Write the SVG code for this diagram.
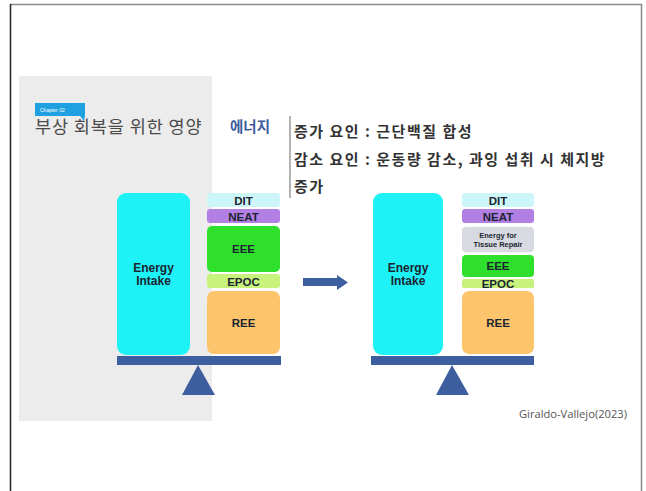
<svg xmlns="http://www.w3.org/2000/svg" width="646" height="491" viewBox="0 0 646 491">
<defs>
<style>
.lbl{font-family:"Liberation Sans",Arial,sans-serif;font-weight:bold;fill:#1b2430;text-anchor:middle}
.ko{font-family:"Noto Sans CJK KR","Noto Sans",sans-serif}
.scale{fill:#3e5f9f}
</style>
</defs>
<rect x="0" y="0" width="646" height="491" fill="#ffffff"/>
<!-- frame -->
<line x1="10" y1="4.5" x2="642" y2="4.5" stroke="#8a8a8a" stroke-width="1.5"/>
<line x1="10.5" y1="4" x2="10.5" y2="491" stroke="#222" stroke-width="1.5"/>
<line x1="641.5" y1="4" x2="641.5" y2="491" stroke="#8a8a8a" stroke-width="1.5"/>
<!-- gray panel -->
<rect x="19" y="76" width="193" height="345" fill="#ececec"/>
<!-- chapter badge -->
<g id="badge">
<rect x="35" y="103" width="50" height="13" fill="#1fa0e0"/>
<polygon points="80,116 85,116 84,121" fill="#1fa0e0"/>
<text x="40" y="112" font-family="Liberation Sans,sans-serif" font-size="5" fill="#fff">Chapter 02</text>
</g>
<g id="title">
<text x="35" y="133" class="ko" font-size="17.5" letter-spacing="0.9" fill="#4a4a4a">부상 회복을 위한 영양</text>
</g>
<g id="energy-heading">
<text x="230" y="132" class="ko" font-size="14.5" font-weight="bold" fill="#3a5a9a">에너지</text>
</g>
<line x1="290" y1="116" x2="290" y2="198" stroke="#9a9a9a" stroke-width="1.5"/>
<g id="notes" class="ko" font-size="15" font-weight="bold" fill="#333" letter-spacing="1.5">
<text x="294" y="137">증가 요인 : 근단백질 합성</text>
<text x="294" y="165">감소 요인 : 운동량 감소, 과잉 섭취 시 체지방</text>
<text x="294" y="192">증가</text>
</g>

<!-- left balance -->
<g id="left-intake">
<rect x="117" y="193" width="73" height="162" rx="9" fill="#1ef2f6"/>
<text class="lbl" x="153.5" y="272" font-size="12">Energy</text>
<text class="lbl" x="153.5" y="285" font-size="12">Intake</text>
</g>
<g id="left-dit"><rect x="207" y="193" width="73" height="14" rx="3" fill="#cdf6f8"/><text class="lbl" x="243.5" y="204.5" font-size="11.5">DIT</text></g>
<g id="left-neat"><rect x="207" y="209" width="73" height="14" rx="3" fill="#b27fe3"/><text class="lbl" x="243.5" y="220.5" font-size="11.5">NEAT</text></g>
<g id="left-eee"><rect x="207" y="226" width="73" height="46" rx="5" fill="#2ee02c"/><text class="lbl" x="243.5" y="253" font-size="11.5">EEE</text></g>
<g id="left-epoc"><rect x="207" y="274" width="73" height="14" rx="3" fill="#c7f27c"/><text class="lbl" x="243.5" y="285.5" font-size="11.5">EPOC</text></g>
<g id="left-ree"><rect x="207" y="291" width="73" height="63" rx="7" fill="#fcc56c"/><text class="lbl" x="243.5" y="327" font-size="11.5">REE</text></g>
<g id="left-scale">
<rect class="scale" x="117" y="356" width="164" height="9"/>
<polygon class="scale" points="198,365 215,395 182,395"/>
</g>

<!-- right balance -->
<g id="right-intake">
<rect x="373" y="193" width="70" height="162" rx="9" fill="#1ef2f6"/>
<text class="lbl" x="408" y="272" font-size="12">Energy</text>
<text class="lbl" x="408" y="285" font-size="12">Intake</text>
</g>
<g id="right-dit"><rect x="462" y="193" width="72" height="14" rx="3" fill="#cdf6f8"/><text class="lbl" x="498" y="204.5" font-size="11.5">DIT</text></g>
<g id="right-neat"><rect x="462" y="209" width="72" height="14" rx="3" fill="#b27fe3"/><text class="lbl" x="498" y="220.5" font-size="11.5">NEAT</text></g>
<g id="right-repair"><rect x="462" y="227" width="72" height="25" rx="4" fill="#d8dae1"/><text class="lbl" x="498" y="238" font-size="7.5">Energy for</text><text class="lbl" x="498" y="247" font-size="7.5">Tissue Repair</text></g>
<g id="right-eee"><rect x="462" y="255" width="72" height="22" rx="4" fill="#2ee02c"/><text class="lbl" x="498" y="270" font-size="11.5">EEE</text></g>
<g id="right-epoc"><rect x="462" y="279" width="72" height="9" rx="2" fill="#c7f27c"/><text class="lbl" x="498" y="287.5" font-size="11.5">EPOC</text></g>
<g id="right-ree"><rect x="462" y="291" width="72" height="63" rx="7" fill="#fcc56c"/><text class="lbl" x="498" y="327" font-size="11.5">REE</text></g>
<g id="right-scale">
<rect class="scale" x="371" y="356" width="163" height="9"/>
<polygon class="scale" points="452,365 469,395 436,395"/>
</g>

<g id="connectors">
<polygon class="scale" points="303,278 337,278 337,275 348,282.5 337,290 337,286 303,286"/>
</g>

<g id="citation">
<text x="519" y="418" font-family="Open Sans,Liberation Sans,sans-serif" font-size="11" fill="#555" textLength="108" lengthAdjust="spacingAndGlyphs">Giraldo-Vallejo(2023)</text>
</g>
</svg>
